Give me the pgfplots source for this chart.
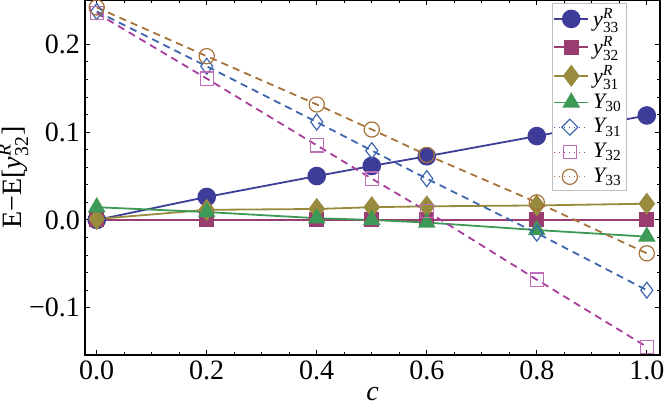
\documentclass[border=0pt]{standalone}
\usepackage{fontspec}
\setmainfont{Liberation Serif}
\usepackage{amsmath}
\usepackage{pgfplots}
\pgfplotsset{compat=1.18}
\definecolor{cA}{rgb}{0.24,0.24,0.6}
\definecolor{cB}{rgb}{0.6,0.24,0.4428}
\definecolor{cC}{rgb}{0.6,0.547,0.24}
\definecolor{cD}{rgb}{0.24,0.6,0.336}
\definecolor{cE}{rgb}{0.24,0.40,0.68}
\definecolor{cF}{rgb}{0.66,0.24,0.62}
\definecolor{cG}{rgb}{0.66,0.45,0.23}
\newcommand{\yR}[1]{$\textit{y}^{\textit{R}}_{\text{#1}}$}
\newcommand{\YY}[1]{$\textit{Y}_{\text{#1}}$}
\begin{document}
\begin{tikzpicture}
\begin{axis}[
  name=ax,
  width=287.5pt, height=177.5pt, scale only axis,
  xmin=-0.0213, xmax=1.024, ymin=-0.1538, ymax=0.2505,
  xtick={0,0.2,0.4,0.6,0.8,1.0},
  xticklabels={0.0,0.2,0.4,0.6,0.8,1.0},
  minor x tick num=3,
  ytick={-0.1,0,0.1,0.2},
  yticklabels={−0.1,0.0,0.1,0.2},
  minor y tick num=4,
  tick align=inside, tick pos=both,
  major tick length=2.6pt, minor tick length=1.5pt,
  tick style={black, line width=0.5pt},
  axis line style={line width=0.6pt},
  ticklabel style={font=\fontsize{14}{16}\selectfont},
  xticklabel style={yshift=0.5pt},
  yticklabel style={xshift=1pt},
  xlabel={\textit{c}},
  ylabel={E−E[\yR{32}]},
  label style={font=\fontsize{14}{16}\selectfont},
  xlabel style={yshift=3pt},
  ylabel style={yshift=-6.5pt},
  legend cell align=left,
  legend style={at={(0.812,0.9915)}, anchor=north west, draw=black!25, fill=white,
    font=\fontsize{11}{12}\selectfont, row sep=-0.3pt, inner sep=0.5pt},
  every axis plot/.append style={line width=0.9pt},
]
\addplot[cA, mark=*, mark size=4.2pt, mark options={solid, fill=cA}] coordinates {
 (0,0) (0.2,0.0262) (0.4,0.0500) (0.5,0.0615) (0.6,0.0725) (0.8,0.0955) (1.0,0.1190)};
\addlegendentry{\yR{33}}
\addplot[cB, mark=square*, mark size=3.3pt, mark options={solid, fill=cB}] coordinates {
 (0,0) (0.2,0) (0.4,0) (0.5,0) (0.6,0) (0.8,0) (1.0,0)};
\addlegendentry{\yR{32}}
\addplot[cC, mark=diamond*, mark size=4.8pt, mark options={solid, fill=cC}] coordinates {
 (0,0.001) (0.2,0.0115) (0.4,0.0125) (0.5,0.0145) (0.6,0.0155) (0.8,0.0165) (1.0,0.0185)};
\addlegendentry{\yR{31}}
\addplot[cD, mark=triangle*, mark size=4.2pt, mark options={solid, fill=cD}] coordinates {
 (0,0.0145) (0.2,0.0090) (0.4,0.0020) (0.5,0.0000) (0.6,-0.0030) (0.8,-0.0115) (1.0,-0.0190)};
\addlegendentry{\YY{30}}
\addplot[cE, dash pattern=on 3.6pt off 2.6pt, mark=diamond, mark size=4pt, mark options={solid, line width=0.6pt},
  legend image code/.code={\draw[cE, dotted, line width=0.5pt] (0cm,0cm) -- (0.55cm,0cm); \draw[cE, solid, line width=0.6pt] (0.275cm,0cm) +(0,-4pt) -- +(4pt,0) -- +(0,4pt) -- +(-4pt,0) -- cycle;}] coordinates {
 (0,0.2375) (0.2,0.1750) (0.4,0.1115) (0.5,0.0790) (0.6,0.0470) (0.8,-0.0150) (1.0,-0.0800)};
\addlegendentry{\YY{31}}
\addplot[cF, dash pattern=on 3.6pt off 2.6pt, mark=square, mark size=3.3pt, mark options={solid, line width=0.6pt, draw=cF!75},
  legend image code/.code={\draw[cF, dotted, line width=0.5pt] (0cm,0cm) -- (0.55cm,0cm); \draw[cF!75, solid, line width=0.6pt] (0.275cm,0cm) +(-3.3pt,-3.3pt) rectangle +(3.3pt,3.3pt);}] coordinates {
 (0,0.2355) (0.2,0.1610) (0.4,0.0850) (0.5,0.0470) (0.6,0.0100) (0.8,-0.0680) (1.0,-0.1445)};
\addlegendentry{\YY{32}}
\addplot[cG, dash pattern=on 3.6pt off 2.6pt, mark=o, mark size=3.8pt, mark options={solid, line width=0.6pt},
  legend image code/.code={\draw[cG, dotted, line width=0.5pt] (0cm,0cm) -- (0.55cm,0cm); \draw[cG, solid, line width=0.6pt] (0.275cm,0cm) circle (3.8pt);}] coordinates {
 (0,0.2420) (0.2,0.1865) (0.4,0.1315) (0.5,0.1030) (0.6,0.0740) (0.8,0.0200) (1.0,-0.0380)};
\addlegendentry{\YY{33}}
\end{axis}
\pgfresetboundingbox
\path (ax.south west) ++(-42.5pt,-27pt) coordinate (bl);
\path (ax.north east) ++(2pt,0pt) coordinate (tr);
\path[use as bounding box] (bl) rectangle (tr);
\end{tikzpicture}
\end{document}
